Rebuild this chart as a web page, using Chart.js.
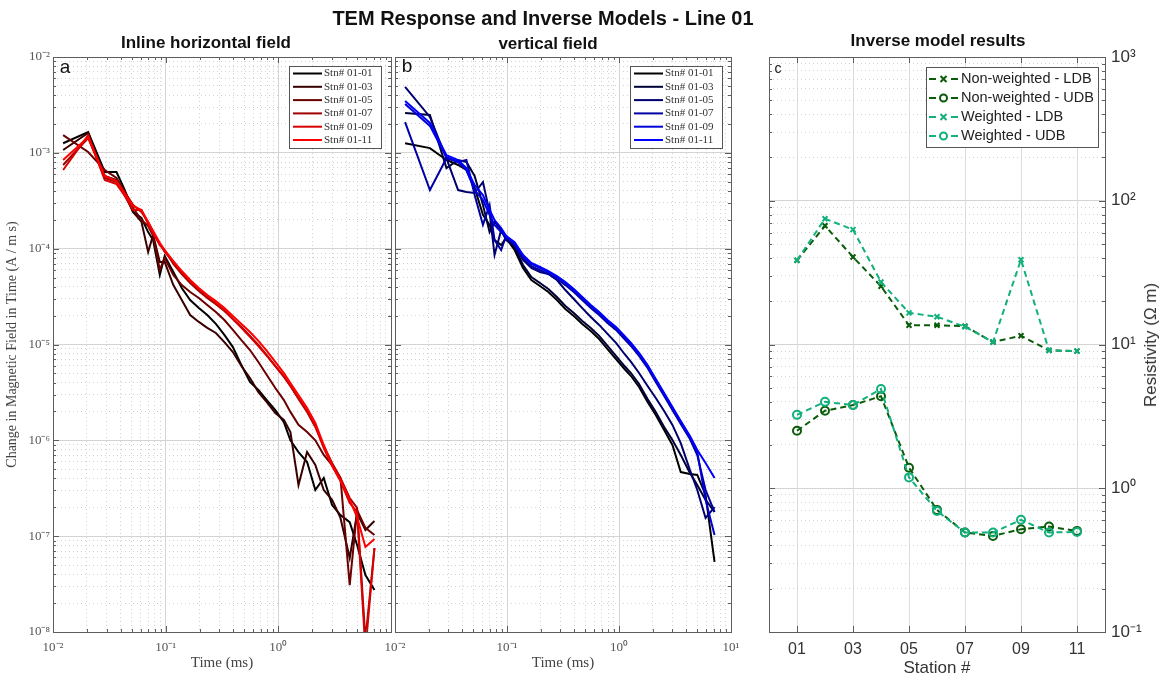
<!DOCTYPE html>
<html>
<head>
<meta charset="utf-8">
<script src="https://cdn.jsdelivr.net/npm/chart.js@4.4.0/dist/chart.umd.min.js"></script>
<style>
  body { margin: 0; background: #fff; width: 1163px; height: 679px; overflow: hidden; position: relative; font-family: 'Liberation Sans', Arial, sans-serif; }
  canvas { position: absolute; left: 0; top: 0; }
  .t { position: absolute; white-space: nowrap; transform: translate(-50%, -50%); color: #111; }
  .b { font-weight: bold; }
</style>
</head>
<body>
<canvas id="cA" width="1163" height="679"></canvas>
<canvas id="cB" width="1163" height="679"></canvas>
<canvas id="cC" width="1163" height="679"></canvas>

<div class="t b" style="left:543px;top:18px;font-size:20px">TEM Response and Inverse Models - Line 01</div>
<div class="t b" style="left:206px;top:43px;font-size:17px">Inline horizontal field</div>
<div class="t b" style="left:548px;top:44px;font-size:17px">vertical field</div>
<div class="t b" style="left:938px;top:41px;font-size:17px">Inverse model results</div>
<div class="t" style="left:65px;top:67px;font-size:19px">a</div>
<div class="t" style="left:407px;top:66px;font-size:19px">b</div>
<div class="t" style="left:778px;top:68px;font-size:14px">c</div>
<div class="t" style="left:1151px;top:345px;font-size:17px;color:#333;transform:translate(-50%,-50%) rotate(-90deg)">Resistivity (Ω m)</div>

<script>
// time gates (ms)
const timeMs = [0.0123, 0.0205, 0.0288, 0.0366, 0.0434, 0.0514, 0.061, 0.0699, 0.0774, 0.0887, 0.098,
  0.117, 0.139, 0.165, 0.197, 0.234, 0.279, 0.332, 0.395, 0.47, 0.56, 0.665, 0.79, 0.94, 1.12, 1.28,
  1.51, 1.8, 2.13, 2.53, 3.0, 3.56, 4.3, 5.0, 5.93, 7.13];

const stnNames = ['Stn# 01-01', 'Stn# 01-03', 'Stn# 01-05', 'Stn# 01-07', 'Stn# 01-09', 'Stn# 01-11'];

// inline horizontal field dB/dt (A / m s)
const inline01 = [1.26e-3, 1.65e-3, 6.31e-4, 6.31e-4, 4.09e-4, 2.41e-4, 2.09e-4, 1.49e-4, 1.23e-4, 5.31e-5, 8.39e-5,
  5.71e-5, 3.89e-5, 2.91e-5, 2.40e-5, 2.03e-5, 1.64e-5, 1.26e-5, 9.4e-6, 6.1e-6, 4.06e-6, 3.35e-6, 2.63e-6, 2.07e-6,
  1.55e-6, 1.0e-6, 7.55e-7, 5.94e-7, 3.03e-7, 4.05e-7, 2.11e-7, 1.66e-7, 1.40e-7, 8.09e-8, 3.93e-8, 2.74e-8];
const inline03 = [1.07e-3, 1.61e-3, 5.73e-4, 5.21e-4, 3.63e-4, 2.41e-4, 1.90e-4, 9.23e-5, 1.39e-4, 7.26e-5, 7.26e-5,
  4.17e-5, 2.91e-5, 2.03e-5, 1.72e-5, 1.49e-5, 1.32e-5, 1.06e-5, 8.35e-6, 5.96e-6, 4.47e-6, 3.19e-6, 2.51e-6, 1.93e-6,
  1.63e-6, 1.22e-6, 3.42e-7, 7.55e-7, 5.53e-7, 3.03e-7, 2.39e-7, 1.55e-7, 5.92e-8, 1.74e-7, 1.16e-7, 1.44e-7];
const inline05 = [1.53e-3, 1.02e-3, 6.62e-4, 5.46e-4, 3.90e-4, 2.65e-4, 1.99e-4, 1.72e-4, 1.36e-4, 5.98e-5, 7.99e-5,
  5.31e-5, 4.17e-5, 3.53e-5, 3.06e-5, 2.58e-5, 2.18e-5, 1.80e-5, 1.42e-5, 1.11e-5, 8.76e-6, 6.57e-6, 4.81e-6, 3.52e-6,
  2.63e-6, 1.98e-6, 1.45e-6, 1.22e-6, 1.0e-6, 7.03e-7, 5.53e-7, 4.05e-7, 3.09e-8, 1.87e-7, 1.22e-7, 1.03e-7];
const inline07 = [7.47e-4, 1.43e-3, 5.46e-4, 4.96e-4, 3.90e-4, 2.85e-4, 2.41e-4, 1.90e-4, 1.49e-4, 1.09e-4, 9.68e-5,
  6.92e-5, 5.44e-5, 4.38e-5, 3.62e-5, 3.06e-5, 2.64e-5, 2.24e-5, 1.84e-5, 1.52e-5, 1.23e-5, 9.9e-6, 7.77e-6, 5.96e-6,
  4.58e-6, 3.69e-6, 2.70e-6, 1.98e-6, 1.38e-6, 8.73e-7, 5.81e-7, 4.05e-7, 2.50e-7, 1.97e-7, 8.25e-9, 7.52e-8];
const inline09 = [6.62e-4, 1.53e-3, 5.21e-4, 4.73e-4, 3.55e-4, 2.53e-4, 2.53e-4, 1.81e-4, 1.42e-4, 1.12e-4, 9.23e-5,
  7.26e-5, 5.71e-5, 4.60e-5, 3.79e-5, 3.21e-5, 2.71e-5, 2.29e-5, 1.84e-5, 1.49e-5, 1.20e-5, 9.65e-6, 7.59e-6, 5.96e-6,
  4.69e-6, 3.69e-6, 2.77e-6, 2.02e-6, 1.41e-6, 8.32e-7, 5.40e-7, 3.76e-7, 2.22e-7, 1.79e-7, 6.5e-9, 7.52e-8];
const inline11 = [8.42e-4, 1.46e-3, 5.73e-4, 5.08e-4, 3.72e-4, 2.79e-4, 2.53e-4, 1.90e-4, 1.53e-4, 1.15e-4, 9.68e-5,
  7.43e-5, 5.84e-5, 4.71e-5, 3.89e-5, 3.28e-5, 2.84e-5, 2.40e-5, 1.98e-5, 1.64e-5, 1.35e-5, 1.09e-5, 8.56e-6, 6.57e-6,
  5.04e-6, 3.96e-6, 2.97e-6, 2.17e-6, 1.52e-6, 8.94e-7, 5.53e-7, 3.85e-7, 2.39e-7, 1.58e-7, 7.70e-8, 9.34e-8];

// vertical field dB/dt (A / m s)
const vert01 = [1.26e-3, 1.12e-3, 8.42e-4, 7.47e-4, 6.62e-4, 4.30e-4, 2.25e-4, 1.77e-4, 1.23e-4, 1.09e-4, 1.29e-4,
  9.68e-5, 6.28e-5, 4.71e-5, 4.08e-5, 3.53e-5, 2.91e-5, 2.35e-5, 1.98e-5, 1.64e-5, 1.38e-5, 1.14e-5, 8.97e-6, 7.06e-6,
  5.55e-6, 4.69e-6, 3.60e-6, 2.51e-6, 1.84e-6, 1.28e-6, 8.94e-7, 4.67e-7, 4.45e-7, 4.35e-7, 2.69e-7, 5.38e-8];
const vert03 = [2.60e-3, 2.48e-3, 6.94e-4, 8.42e-4, 8.03e-4, 5.73e-4, 2.85e-4, 1.49e-4, 1.90e-4, 1.57e-4, 1.29e-4,
  1.04e-4, 6.76e-5, 5.06e-5, 4.38e-5, 3.79e-5, 3.13e-5, 2.52e-5, 2.13e-5, 1.76e-5, 1.49e-5, 1.23e-5, 9.65e-6, 7.59e-6,
  5.96e-6, 5.04e-6, 3.87e-6, 2.70e-6, 1.98e-6, 1.38e-6, 1.01e-6, 7.03e-7, 4.56e-7, 3.42e-7, 2.39e-7, 1.79e-7];
const vert05 = [4.87e-3, 2.37e-3, 8.77e-4, 4.09e-4, 3.90e-4, 3.81e-4, 4.96e-4, 2.41e-4, 8.6e-5, 1.57e-4, 1.23e-4,
  1.07e-4, 7.62e-5, 6.28e-5, 5.71e-5, 5.44e-5, 4.71e-5, 3.70e-5, 2.98e-5, 2.40e-5, 1.94e-5, 1.60e-5, 1.29e-5, 1.04e-5,
  7.96e-6, 6.57e-6, 5.04e-6, 3.69e-6, 2.77e-6, 2.02e-6, 1.45e-6, 9.36e-7, 4.90e-7, 3.03e-7, 1.55e-7, 2.01e-7];
const vert07 = [2.09e-3, 4.09e-4, 8.77e-4, 8.03e-4, 8.42e-4, 3.63e-4, 1.77e-4, 2.85e-4, 1.23e-4, 9.68e-5, 1.36e-4,
  1.09e-4, 7.99e-5, 6.57e-5, 5.98e-5, 5.44e-5, 4.82e-5, 4.17e-5, 3.53e-5, 2.91e-5, 2.40e-5, 2.03e-5, 1.68e-5, 1.42e-5,
  1.14e-5, 9.65e-6, 7.59e-6, 5.69e-6, 4.06e-6, 2.90e-6, 2.07e-6, 1.48e-6, 1.03e-6, 7.03e-7, 3.03e-7, 1.79e-7];
const vert09 = [3.23e-3, 1.91e-3, 9.0e-4, 8.03e-4, 6.62e-4, 4.09e-4, 3.22e-4, 2.25e-4, 1.77e-4, 1.49e-4, 1.32e-4,
  1.15e-4, 8.39e-5, 6.92e-5, 6.28e-5, 5.71e-5, 5.06e-5, 4.38e-5, 3.70e-5, 3.06e-5, 2.52e-5, 2.13e-5, 1.76e-5, 1.49e-5,
  1.20e-5, 1.01e-5, 7.96e-6, 5.96e-6, 4.26e-6, 3.04e-6, 2.17e-6, 1.55e-6, 1.08e-6, 7.55e-7, 2.39e-7, 1.03e-7];
const vert11 = [3.47e-3, 2.05e-3, 9.47e-4, 8.42e-4, 6.94e-4, 4.61e-4, 3.63e-4, 2.53e-4, 1.99e-4, 1.64e-4, 1.36e-4,
  1.17e-4, 8.6e-5, 7.09e-5, 6.44e-5, 5.84e-5, 5.18e-5, 4.48e-5, 3.79e-5, 3.13e-5, 2.58e-5, 2.18e-5, 1.80e-5, 1.52e-5,
  1.23e-5, 1.04e-5, 8.17e-6, 6.1e-6, 4.37e-6, 3.12e-6, 2.23e-6, 1.59e-6, 1.11e-6, 7.92e-7, 5.81e-7, 4.05e-7];

// inverse model results, resistivity (ohm m) per station
const stations = [1, 2, 3, 4, 5, 6, 7, 8, 9, 10, 11];
const stnTicks = [1, 3, 5, 7, 9, 11];
const nwLDB = [38.5, 67, 40.6, 25.4, 13.6, 13.6, 13.4, 10.4, 11.5, 9.1, 9.0];
const nwUDB = [2.51, 3.46, 3.79, 4.37, 1.39, 0.707, 0.492, 0.466, 0.519, 0.541, 0.505];
const wLDB = [38.5, 75, 63, 27.2, 16.6, 15.6, 13.3, 10.4, 38.9, 9.1, 9.0];
const wUDB = [3.24, 3.99, 3.79, 4.9, 1.19, 0.695, 0.492, 0.492, 0.603, 0.492, 0.497];

const reds = ['#000000', '#380000', '#6a0000', '#a00000', '#d80000', '#ff0000'];
const blues = ['#000000', '#000038', '#00006e', '#0000a4', '#0000d8', '#0000ff'];
const darkGreen = '#0a5c0a';
const lightGreen = '#12b07c';

Chart.defaults.font.family = "'Liberation Sans', Arial, sans-serif";

const sup = { '-': '⁻', '0': '⁰', '1': '¹', '2': '²', '3': '³', '4': '⁴', '5': '⁵', '6': '⁶', '7': '⁷', '8': '⁸', '9': '⁹' };
function isDecade(v) {
  const l = Math.log10(v);
  return Math.abs(l - Math.round(l)) < 1e-6;
}
function decadeLabel(v) {
  if (!isDecade(v)) return '';
  return '10' + String(Math.round(Math.log10(v))).split('').map(c => sup[c]).join('');
}
function logTicks(scale) {
  const lo = Math.round(Math.log10(scale.min)), hi = Math.round(Math.log10(scale.max));
  const t = [];
  for (let e = lo; e < hi; e++) {
    for (let m = 1; m < 10; m++) t.push({ value: m * Math.pow(10, e) });
  }
  t.push({ value: Math.pow(10, hi) });
  scale.ticks = t;
}
const logGrid = { color: c => isDecade(c.tick.value) ? '#d4d4d4' : '#d2d2d2', lineWidth: 1, drawTicks: false };
const logBorder = { display: false, dash: c => (c.tick && !isDecade(c.tick.value)) ? [1, 3] : [] };

function marker(ctx, style, x, y, r, color, w) {
  ctx.strokeStyle = color;
  ctx.lineWidth = w;
  ctx.setLineDash([]);
  ctx.beginPath();
  if (style === 'crossRot') {
    ctx.moveTo(x - r, y - r); ctx.lineTo(x + r, y + r);
    ctx.moveTo(x + r, y - r); ctx.lineTo(x - r, y + r);
  } else {
    ctx.arc(x, y, r, 0, Math.PI * 2);
  }
  ctx.stroke();
}

// axes box with inward tick marks, matlab style
const frame = {
  id: 'frame',
  afterDatasetsDraw(chart) {
    const { ctx, chartArea: a } = chart;
    const xs = chart.scales.x, ys = chart.scales.y;
    ctx.save();
    ctx.strokeStyle = '#5e5e5e';
    ctx.lineWidth = 1;
    ctx.setLineDash([]);
    ctx.beginPath();
    xs.ticks.forEach(t => {
      const px = Math.round(xs.getPixelForValue(t.value)) + 0.5;
      const len = (xs.type === 'logarithmic' && !isDecade(t.value)) ? 3 : 6;
      ctx.moveTo(px, a.bottom); ctx.lineTo(px, a.bottom - len);
      ctx.moveTo(px, a.top); ctx.lineTo(px, a.top + len);
    });
    ys.ticks.forEach(t => {
      const py = Math.round(ys.getPixelForValue(t.value)) + 0.5;
      const len = isDecade(t.value) ? 6 : 3;
      ctx.moveTo(a.left, py); ctx.lineTo(a.left + len, py);
      ctx.moveTo(a.right, py); ctx.lineTo(a.right - len, py);
    });
    ctx.stroke();
    ctx.strokeRect(Math.round(a.left) + 0.5, Math.round(a.top) + 0.5, Math.round(a.right - a.left), Math.round(a.bottom - a.top));
    ctx.restore();
  }
};

// legend box drawn inside the axes
const boxLegend = {
  id: 'boxLegend',
  afterDatasetsDraw(chart, args, o) {
    const ctx = chart.ctx;
    ctx.save();
    ctx.fillStyle = '#fff';
    ctx.fillRect(o.x, o.y, o.w, o.h);
    ctx.strokeStyle = '#555';
    ctx.lineWidth = 1;
    ctx.strokeRect(o.x + 0.5, o.y + 0.5, o.w, o.h);
    chart.data.datasets.forEach((ds, i) => {
      const yy = o.y + o.first + i * o.row;
      const x0 = o.x + o.l0, x1 = o.x + o.l1;
      ctx.strokeStyle = ds.borderColor;
      ctx.lineWidth = ds.borderWidth;
      ctx.beginPath();
      if (ds.borderDash) {
        ctx.moveTo(x0, yy); ctx.lineTo(x0 + 7, yy);
        ctx.moveTo(x1 - 7, yy); ctx.lineTo(x1, yy);
      } else {
        ctx.moveTo(x0, yy); ctx.lineTo(x1, yy);
      }
      ctx.stroke();
      if (ds.pointStyle) marker(ctx, ds.pointStyle, (x0 + x1) / 2, yy, ds.pointRadius - 0.5, ds.borderColor, ds.pointBorderWidth);
      ctx.fillStyle = o.color;
      ctx.font = o.font;
      ctx.textBaseline = 'middle';
      ctx.textAlign = 'left';
      ctx.fillText(ds.label, o.x + o.tx, yy);
    });
    ctx.restore();
  }
};

const serif = "'Liberation Serif', 'Times New Roman', serif";

function responsePanel(id, series, colors, pad, yWidth, showY, lastX, legend) {
  return new Chart(document.getElementById(id), {
    type: 'line',
    data: {
      datasets: series.map((s, i) => ({
        label: stnNames[i],
        data: timeMs.map((t, k) => ({ x: t, y: s[k] })),
        borderColor: colors[i],
        borderWidth: 2,
        pointRadius: 0,
        tension: 0,
        fill: false,
        order: series.length - i   // later stations drawn on top
      }))
    },
    options: {
      responsive: false,
      animation: false,
      events: [],
      layout: { padding: pad },
      plugins: { legend: { display: false }, tooltip: { enabled: false }, boxLegend: legend },
      scales: {
        x: {
          type: 'logarithmic', min: 0.01, max: 10,
          afterBuildTicks: logTicks,
          afterFit: s => { s.height = 47; },
          ticks: {
            autoSkip: false, maxRotation: 0, padding: 8, color: '#555', font: { family: serif, size: 13 },
            callback: v => (v >= 10 && !lastX) ? '' : decadeLabel(v)
          },
          grid: logGrid, border: logBorder,
          title: { display: true, text: 'Time (ms)', color: '#444', font: { family: serif, size: 15 }, padding: { top: 0, bottom: 7 } }
        },
        y: {
          type: 'logarithmic', min: 1e-8, max: 1e-2,
          afterBuildTicks: logTicks,
          afterFit: s => { s.width = yWidth; },
          ticks: { display: showY, autoSkip: false, padding: 3, color: '#555', font: { family: serif, size: 13 }, callback: v => decadeLabel(v) },
          grid: logGrid, border: logBorder,
          title: { display: showY, text: 'Change in Magnetic Field in Time (A / m s)', color: '#444', font: { family: serif, size: 14 }, padding: { top: 4, bottom: 0 } }
        }
      }
    },
    plugins: [frame, boxLegend]
  });
}

responsePanel('cA', [inline01, inline03, inline05, inline07, inline09, inline11], reds,
  { top: 57, left: 0, right: 772, bottom: 0 }, 53, true, false,
  { x: 289, y: 66, w: 92, h: 82, l0: 4, l1: 33, tx: 35, first: 7.5, row: 13.3, font: "11px " + serif, color: '#333' });

responsePanel('cB', [vert01, vert03, vert05, vert07, vert09, vert11], blues,
  { top: 57, left: 380, right: 432, bottom: 0 }, 15, false, true,
  { x: 630, y: 66, w: 92, h: 82, l0: 4, l1: 33, tx: 35, first: 7.5, row: 13.3, font: "11px " + serif, color: '#333' });

function stnSet(label, values, color, style, order) {
  return {
    label: label,
    data: stations.map((s, i) => ({ x: s, y: values[i] })),
    borderColor: color,
    borderWidth: 2,
    borderDash: [6, 4],
    pointStyle: style,
    pointRadius: style === 'circle' ? 4 : 3.5,
    pointBorderWidth: 2,
    pointBorderColor: color,
    pointBackgroundColor: 'rgba(0,0,0,0)',
    tension: 0,
    fill: false,
    order: order
  };
}

new Chart(document.getElementById('cC'), {
  type: 'line',
  data: {
    datasets: [
      stnSet('Non-weighted - LDB', nwLDB, darkGreen, 'crossRot', 4),
      stnSet('Non-weighted - UDB', nwUDB, darkGreen, 'circle', 3),
      stnSet('Weighted - LDB', wLDB, lightGreen, 'crossRot', 2),
      stnSet('Weighted - UDB', wUDB, lightGreen, 'circle', 1)
    ]
  },
  options: {
    responsive: false,
    animation: false,
    events: [],
    layout: { padding: { top: 57, left: 769, right: 0, bottom: 0 } },
    plugins: {
      legend: { display: false }, tooltip: { enabled: false },
      boxLegend: { x: 926, y: 67, w: 172, h: 80, l0: 3, l1: 32, tx: 35, first: 12, row: 19, font: "14.5px 'Liberation Sans', Arial, sans-serif", color: '#222' }
    },
    scales: {
      x: {
        type: 'linear', min: 0, max: 12,
        afterBuildTicks: s => { s.ticks = stnTicks.map(v => ({ value: v })); },
        afterFit: s => { s.height = 47; },
        ticks: { autoSkip: false, maxRotation: 0, padding: 8, color: '#333', font: { size: 16 }, callback: v => (v < 10 ? '0' : '') + v },
        grid: { color: '#dedede', drawTicks: false },
        border: { display: false },
        title: { display: true, text: 'Station #', color: '#333', font: { size: 17 }, padding: { top: 0, bottom: 0 } }
      },
      y: {
        type: 'logarithmic', position: 'right', min: 0.1, max: 1000,
        afterBuildTicks: logTicks,
        afterFit: s => { s.width = 58; },
        ticks: { autoSkip: false, padding: 6, color: '#333', font: { size: 17 }, callback: v => decadeLabel(v) },
        grid: logGrid, border: logBorder
      }
    }
  },
  plugins: [frame, boxLegend]
});
</script>
</body>
</html>
